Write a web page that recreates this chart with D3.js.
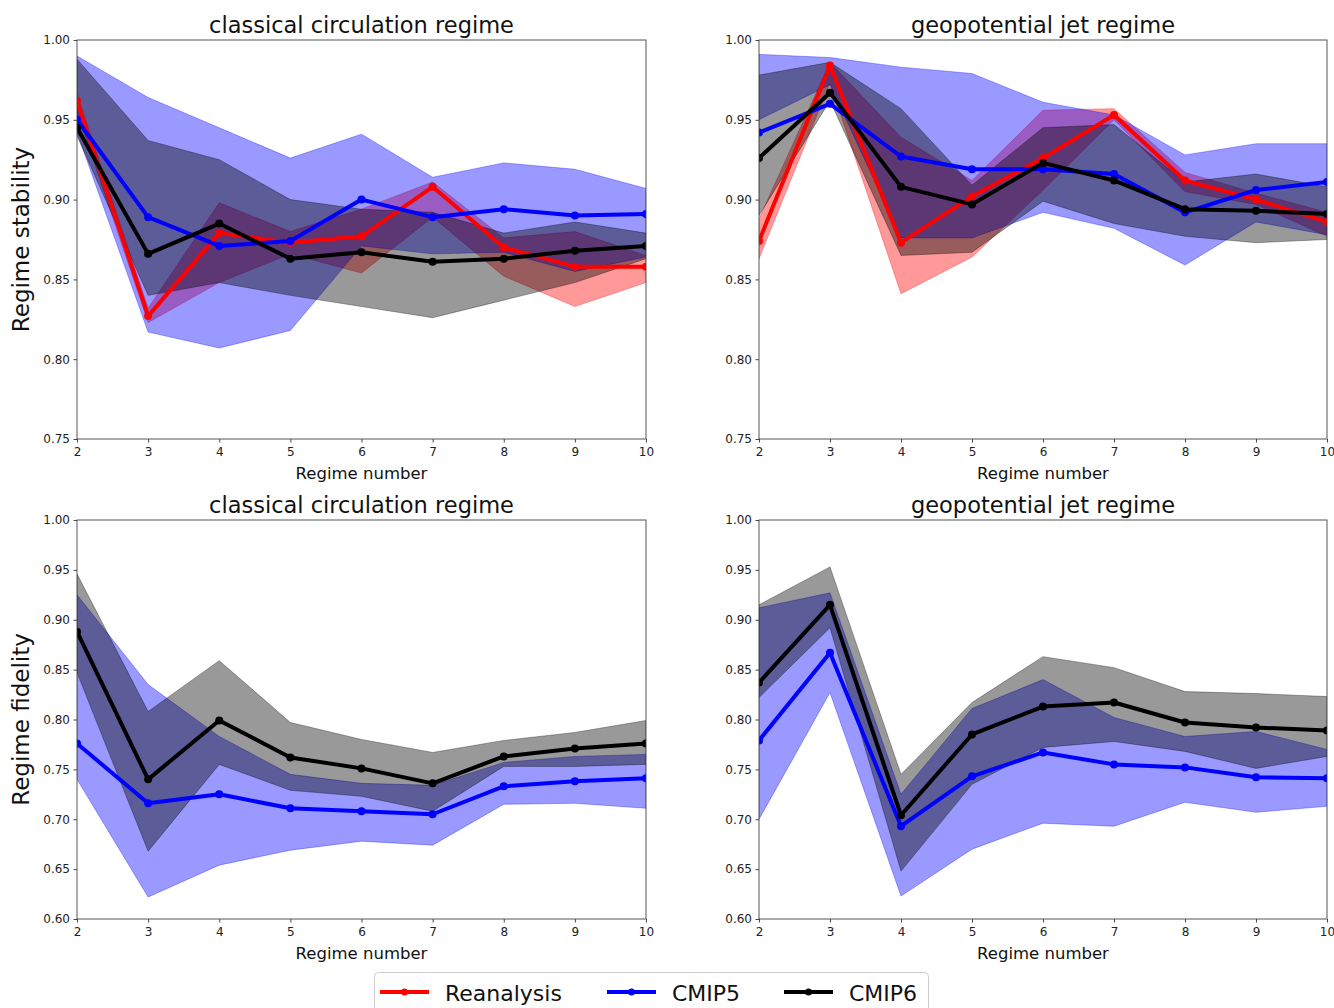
<!DOCTYPE html>
<html>
<head>
<meta charset="utf-8">
<script src="https://cdn.jsdelivr.net/npm/d3@7"></script>
<style>
  body { margin: 0; background: #fff; }
  svg { font-family: "DejaVu Sans", sans-serif; }
</style>
</head>
<body>
<svg id="chart" width="1334" height="1008"></svg>
<script>
const regimes = [2, 3, 4, 5, 6, 7, 8, 9, 10];

// regime stability, classical circulation regime
const reaStabClassical    = [0.962, 0.827, 0.879, 0.873, 0.877, 0.908, 0.870, 0.858, 0.858];
const reaStabClassicalLo  = [0.955, 0.823, 0.848, 0.866, 0.854, 0.889, 0.852, 0.833, 0.848];
const reaStabClassicalHi  = [0.966, 0.832, 0.898, 0.880, 0.894, 0.911, 0.876, 0.880, 0.865];
const cmip5StabClassical   = [0.950, 0.889, 0.871, 0.874, 0.900, 0.889, 0.894, 0.890, 0.891];
const cmip5StabClassicalLo = [0.942, 0.817, 0.807, 0.818, 0.871, 0.866, 0.867, 0.855, 0.864];
const cmip5StabClassicalHi = [0.990, 0.964, 0.945, 0.926, 0.941, 0.914, 0.923, 0.919, 0.907];
const cmip6StabClassical   = [0.945, 0.866, 0.885, 0.863, 0.867, 0.861, 0.863, 0.868, 0.871];
const cmip6StabClassicalLo = [0.940, 0.840, 0.848, 0.840, 0.833, 0.826, 0.837, 0.848, 0.863];
const cmip6StabClassicalHi = [0.988, 0.937, 0.925, 0.900, 0.894, 0.892, 0.879, 0.886, 0.879];

// regime stability, geopotential jet regime
const reaStabJet    = [0.874, 0.984, 0.873, 0.902, 0.926, 0.953, 0.912, 0.900, 0.886];
const reaStabJetLo  = [0.863, 0.973, 0.841, 0.864, 0.906, 0.950, 0.905, 0.897, 0.877];
const reaStabJetHi  = [0.888, 0.986, 0.939, 0.912, 0.956, 0.957, 0.917, 0.904, 0.892];
const cmip5StabJet   = [0.942, 0.960, 0.927, 0.919, 0.919, 0.916, 0.892, 0.906, 0.911];
const cmip5StabJetLo = [0.950, 0.972, 0.876, 0.876, 0.892, 0.882, 0.859, 0.886, 0.878];
const cmip5StabJetHi = [0.991, 0.989, 0.983, 0.979, 0.961, 0.953, 0.928, 0.935, 0.935];
const cmip6StabJet   = [0.926, 0.967, 0.908, 0.897, 0.923, 0.912, 0.894, 0.893, 0.891];
const cmip6StabJetLo = [0.890, 0.962, 0.865, 0.867, 0.899, 0.885, 0.877, 0.873, 0.875];
const cmip6StabJetHi = [0.978, 0.986, 0.957, 0.909, 0.945, 0.947, 0.911, 0.916, 0.908];

// regime fidelity, classical circulation regime
const cmip5FidClassical   = [0.776, 0.716, 0.725, 0.711, 0.708, 0.705, 0.733, 0.738, 0.741];
const cmip5FidClassicalLo = [0.740, 0.622, 0.654, 0.669, 0.678, 0.674, 0.715, 0.716, 0.711];
const cmip5FidClassicalHi = [0.925, 0.835, 0.783, 0.745, 0.736, 0.734, 0.757, 0.763, 0.765];
const cmip6FidClassical   = [0.888, 0.740, 0.799, 0.762, 0.751, 0.736, 0.763, 0.771, 0.776];
const cmip6FidClassicalLo = [0.847, 0.668, 0.755, 0.729, 0.723, 0.708, 0.753, 0.753, 0.755];
const cmip6FidClassicalHi = [0.946, 0.808, 0.859, 0.797, 0.780, 0.767, 0.779, 0.787, 0.799];

// regime fidelity, geopotential jet regime
const cmip5FidJet   = [0.779, 0.867, 0.693, 0.743, 0.767, 0.755, 0.752, 0.742, 0.741];
const cmip5FidJetLo = [0.700, 0.827, 0.623, 0.670, 0.696, 0.693, 0.717, 0.707, 0.713];
const cmip5FidJetHi = [0.912, 0.927, 0.725, 0.811, 0.840, 0.802, 0.783, 0.788, 0.770];
const cmip6FidJet   = [0.837, 0.915, 0.704, 0.785, 0.813, 0.817, 0.797, 0.792, 0.789];
const cmip6FidJetLo = [0.822, 0.892, 0.648, 0.735, 0.772, 0.778, 0.768, 0.751, 0.763];
const cmip6FidJetHi = [0.915, 0.953, 0.745, 0.817, 0.863, 0.852, 0.828, 0.826, 0.823];

const stabTicks = [0.75, 0.80, 0.85, 0.90, 0.95, 1.00];
const fidTicks  = [0.60, 0.65, 0.70, 0.75, 0.80, 0.85, 0.90, 0.95, 1.00];

const seriesNames = ["Reanalysis", "CMIP5", "CMIP6"];
const colors = {Reanalysis: "#ff0000", CMIP5: "#0000ff", CMIP6: "#000000"};

const svg = d3.select("#chart");

// panels, left-right / top-bottom
const panels = [
  {title: "classical circulation regime", ylabel: "Regime stability",
   left: 77, right: 646, top: 40, bottom: 439, yTicks: stabTicks,
   series: [
     {name: "Reanalysis", mid: reaStabClassical, lo: reaStabClassicalLo, hi: reaStabClassicalHi},
     {name: "CMIP5", mid: cmip5StabClassical, lo: cmip5StabClassicalLo, hi: cmip5StabClassicalHi},
     {name: "CMIP6", mid: cmip6StabClassical, lo: cmip6StabClassicalLo, hi: cmip6StabClassicalHi}]},
  {title: "geopotential jet regime", ylabel: null,
   left: 759, right: 1327, top: 40, bottom: 439, yTicks: stabTicks,
   series: [
     {name: "Reanalysis", mid: reaStabJet, lo: reaStabJetLo, hi: reaStabJetHi},
     {name: "CMIP5", mid: cmip5StabJet, lo: cmip5StabJetLo, hi: cmip5StabJetHi},
     {name: "CMIP6", mid: cmip6StabJet, lo: cmip6StabJetLo, hi: cmip6StabJetHi}]},
  {title: "classical circulation regime", ylabel: "Regime fidelity",
   left: 77, right: 646, top: 520, bottom: 919, yTicks: fidTicks,
   series: [
     {name: "CMIP5", mid: cmip5FidClassical, lo: cmip5FidClassicalLo, hi: cmip5FidClassicalHi},
     {name: "CMIP6", mid: cmip6FidClassical, lo: cmip6FidClassicalLo, hi: cmip6FidClassicalHi}]},
  {title: "geopotential jet regime", ylabel: null,
   left: 759, right: 1327, top: 520, bottom: 919, yTicks: fidTicks,
   series: [
     {name: "CMIP5", mid: cmip5FidJet, lo: cmip5FidJetLo, hi: cmip5FidJetHi},
     {name: "CMIP6", mid: cmip6FidJet, lo: cmip6FidJetLo, hi: cmip6FidJetHi}]}
];

panels.forEach(drawPanel);

function drawPanel(p, idx) {
  const x = d3.scaleLinear().domain([2, 10]).range([p.left, p.right]);
  const y = d3.scaleLinear()
    .domain([p.yTicks[0], p.yTicks[p.yTicks.length - 1]])
    .range([p.bottom, p.top]);

  const clipId = "clip" + idx;
  svg.append("clipPath").attr("id", clipId)
    .append("rect")
    .attr("x", p.left).attr("y", p.top)
    .attr("width", p.right - p.left).attr("height", p.bottom - p.top);

  const g = svg.append("g").attr("clip-path", "url(#" + clipId + ")");

  const band = d3.area()
    .x(d => x(d.r))
    .y0(d => y(d.lo))
    .y1(d => y(d.hi));
  const line = d3.line()
    .x(d => x(d.r))
    .y(d => y(d.v));

  // fills first (all under the lines)
  p.series.forEach(s => {
    const pts = regimes.map((r, k) => ({r: r, lo: s.lo[k], hi: s.hi[k]}));
    g.append("path")
      .datum(pts)
      .attr("d", band)
      .attr("fill", colors[s.name])
      .attr("fill-opacity", 0.4)
      .attr("stroke", colors[s.name])
      .attr("stroke-opacity", 0.4)
      .attr("stroke-width", 0.8);
  });

  p.series.forEach(s => {
    const pts = regimes.map((r, k) => ({r: r, v: s.mid[k]}));
    g.append("path")
      .datum(pts)
      .attr("d", line)
      .attr("fill", "none")
      .attr("stroke", colors[s.name])
      .attr("stroke-width", 4)
      .attr("stroke-linejoin", "round");
    g.selectAll(null)
      .data(pts)
      .enter().append("circle")
      .attr("cx", d => x(d.r))
      .attr("cy", d => y(d.v))
      .attr("r", 4)
      .attr("fill", colors[s.name]);
  });

  // axes
  const xAxis = d3.axisBottom(x).tickValues(regimes).tickFormat(d3.format("d"))
    .tickSize(3.5).tickPadding(5).tickSizeOuter(0);
  const yAxis = d3.axisLeft(y).tickValues(p.yTicks).tickFormat(d3.format(".2f"))
    .tickSize(3.5).tickPadding(3.5).tickSizeOuter(0);

  const gx = svg.append("g").attr("transform", "translate(0," + p.bottom + ")").call(xAxis);
  const gy = svg.append("g").attr("transform", "translate(" + p.left + ",0)").call(yAxis);
  [gx, gy].forEach(a => {
    a.select(".domain").remove();
    a.selectAll("line").attr("stroke", "#333").attr("stroke-width", 0.9);
    a.selectAll("text")
      .attr("font-family", "DejaVu Sans, sans-serif")
      .attr("font-size", 12)
      .attr("fill", "#222");
  });

  // frame
  svg.append("rect")
    .attr("x", p.left).attr("y", p.top)
    .attr("width", p.right - p.left).attr("height", p.bottom - p.top)
    .attr("fill", "none")
    .attr("stroke", "#444")
    .attr("stroke-width", 0.9);

  const cx = (p.left + p.right) / 2;
  svg.append("text")
    .attr("x", cx).attr("y", p.top - 7)
    .attr("text-anchor", "middle")
    .attr("font-size", 22.5)
    .attr("fill", "#111")
    .text(p.title);

  svg.append("text")
    .attr("x", cx).attr("y", p.bottom + 40)
    .attr("text-anchor", "middle")
    .attr("font-size", 16.5)
    .attr("fill", "#111")
    .text("Regime number");

  if (p.ylabel) {
    svg.append("text")
      .attr("transform", "translate(29," + (p.top + p.bottom) / 2 + ") rotate(-90)")
      .attr("text-anchor", "middle")
      .attr("font-size", 23)
      .attr("fill", "#111")
      .text(p.ylabel);
  }
}

// legend
const legend = svg.append("g");
legend.append("rect")
  .attr("x", 374.5).attr("y", 972.5)
  .attr("width", 554).attr("height", 50)
  .attr("rx", 4)
  .attr("fill", "#fff")
  .attr("stroke", "#ccc");

const legendX = [380, 607, 784];
seriesNames.forEach((name, i) => {
  const lg = legend.append("g").attr("transform", "translate(" + legendX[i] + ",992)");
  lg.append("line")
    .attr("x1", 0).attr("x2", 49)
    .attr("stroke", colors[name]).attr("stroke-width", 4);
  lg.append("circle")
    .attr("cx", 24.5).attr("cy", 0).attr("r", 3.5)
    .attr("fill", colors[name]);
  lg.append("text")
    .attr("x", 65).attr("y", 9)
    .attr("font-size", 22)
    .attr("fill", "#111")
    .text(name);
});
</script>
</body>
</html>
